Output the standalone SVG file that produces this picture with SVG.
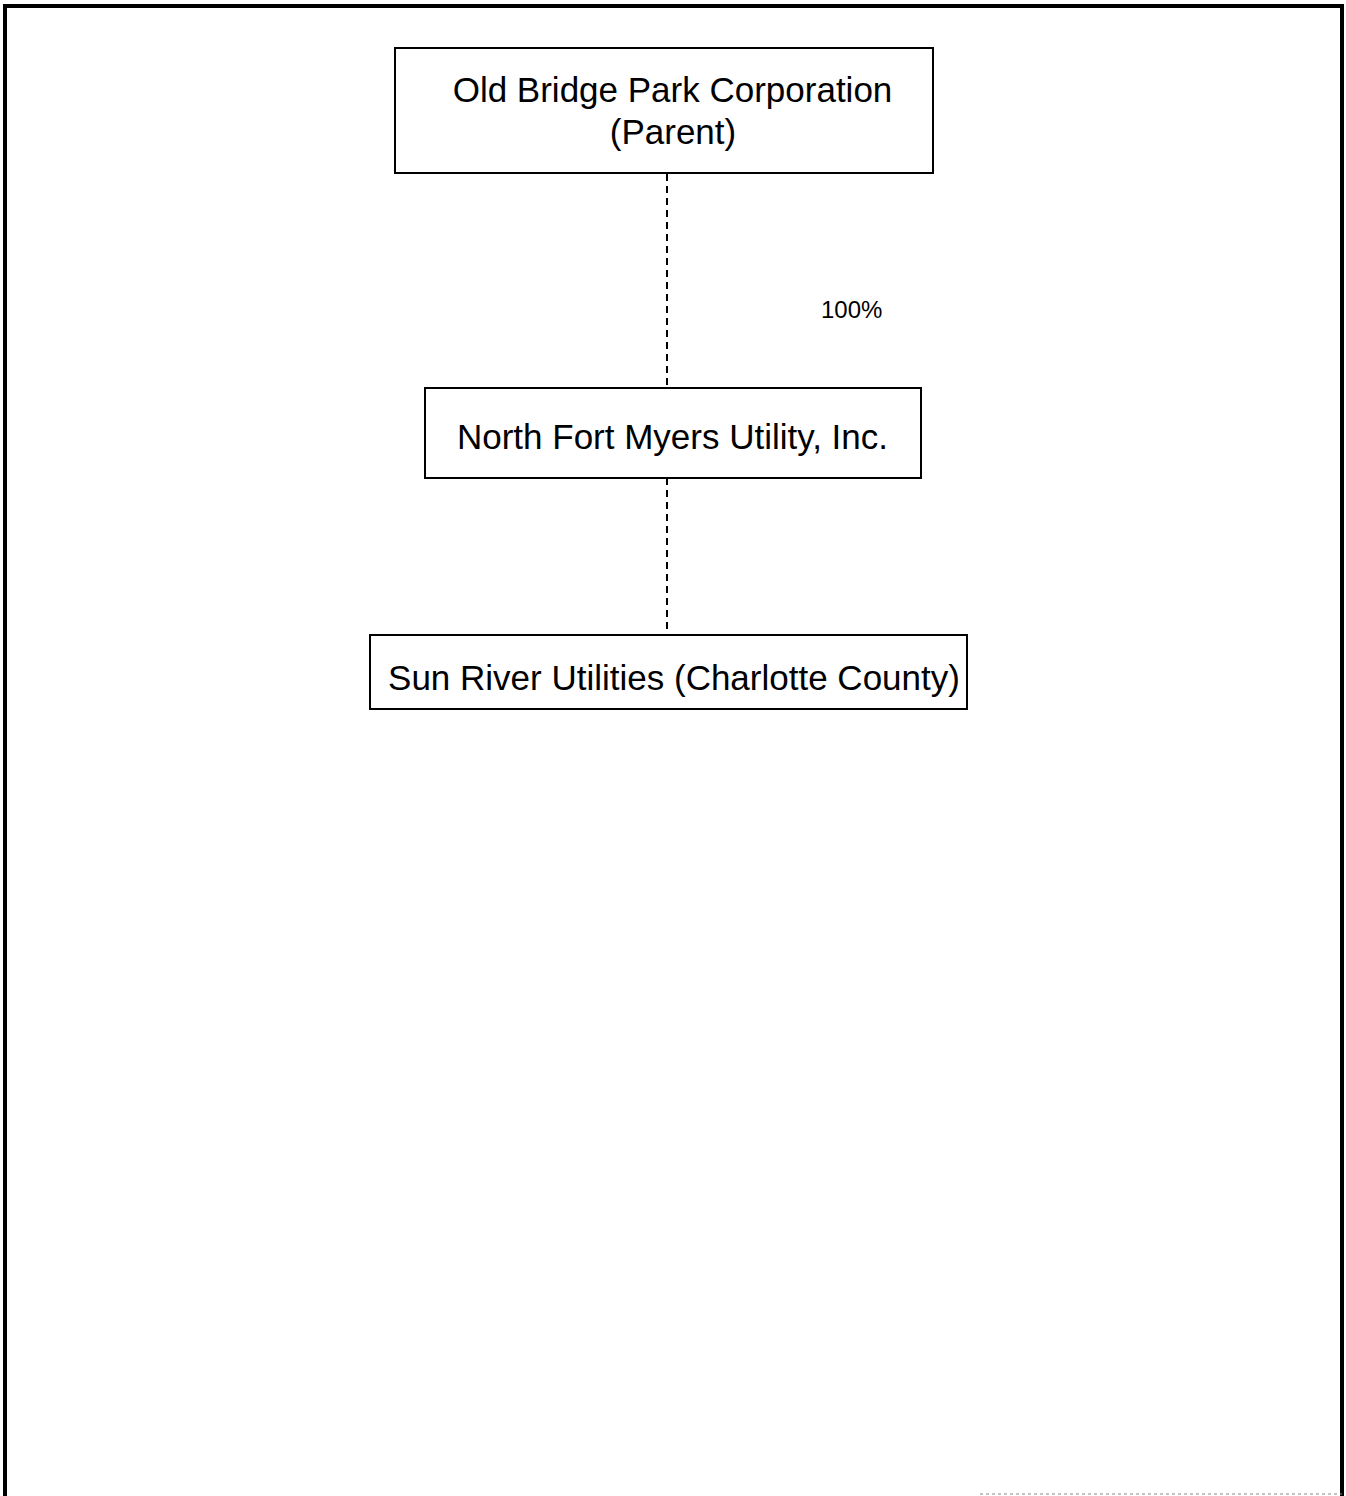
<svg xmlns="http://www.w3.org/2000/svg" width="1346" height="1496" viewBox="0 0 1346 1496">
<style>
.box{fill:#fff;stroke:#000;stroke-width:2}
.t{font-family:"Liberation Sans",Arial,sans-serif;font-size:35px;fill:#000;text-anchor:middle}
.lbl{font-family:"Liberation Sans",Arial,sans-serif;font-size:24px;fill:#000}
.conn{stroke:#000;stroke-width:2;stroke-dasharray:7,5;fill:none}
</style>
<rect width="1346" height="1496" fill="#fff"/>
<g id="frame">
<path d="M5,1496 V6 H1342 V1496" fill="none" stroke="#000" stroke-width="4"/>
<line x1="980" y1="1494" x2="1342" y2="1494" stroke="#888" stroke-width="1" stroke-dasharray="3,3"/>
</g>
<g id="connectors">
<line class="conn" x1="667" y1="174" x2="667" y2="388"/>
<line class="conn" x1="667" y1="478" x2="667" y2="635"/>
<text class="lbl" x="821" y="318">100%</text>
</g>
<g id="node-parent">
<rect class="box" x="395" y="48" width="538" height="125"/>
<text class="t" x="672.5" y="102">Old Bridge Park Corporation</text>
<text class="t" x="673" y="144">(Parent)</text>
</g>
<g id="node-nfmu">
<rect class="box" x="425" y="388" width="496" height="90"/>
<text class="t" x="672.5" y="449">North Fort Myers Utility, Inc.</text>
</g>
<g id="node-sunriver">
<rect class="box" x="370" y="635" width="597" height="74"/>
<text class="t" x="674" y="690">Sun River Utilities (Charlotte County)</text>
</g>
</svg>
